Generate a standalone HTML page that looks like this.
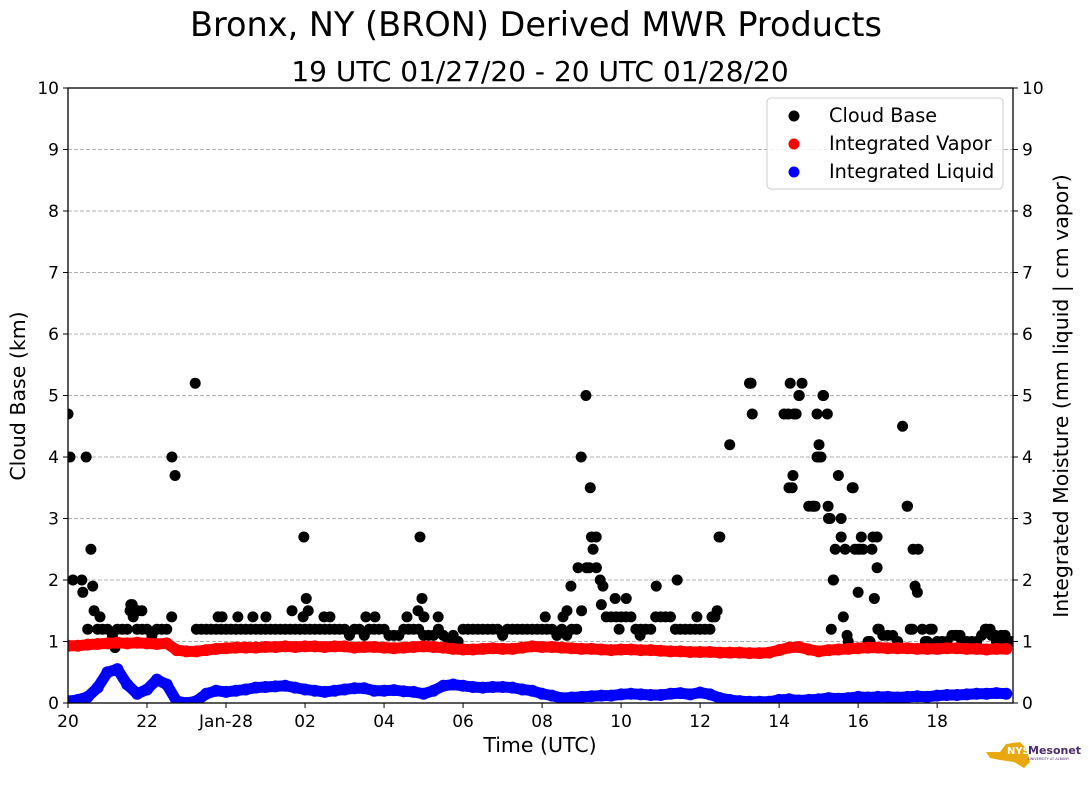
<!DOCTYPE html>
<html><head><meta charset="utf-8">
<style>
body{margin:0;background:#fff;}
svg{display:block;font-family:"DejaVu Sans","Liberation Sans",sans-serif;}
</style></head>
<body>
<svg id="chart" width="1089" height="804">
<text x="536" y="36" font-size="33.5" text-anchor="middle">Bronx, NY (BRON) Derived MWR Products</text>
<text x="540" y="81" font-size="28" text-anchor="middle">19 UTC 01/27/20 - 20 UTC 01/28/20</text>
<defs><clipPath id="clip"><rect x="68" y="88" width="945" height="615"/></clipPath></defs>
<g id="grid"></g>
<g id="marks" clip-path="url(#clip)"></g>
<rect x="68" y="88" width="945" height="615" fill="none" stroke="#000" stroke-width="1.3"/>
<g id="axes"></g>
<text x="540" y="752" font-size="20.5" text-anchor="middle">Time (UTC)</text>
<text transform="translate(25,396) rotate(-90)" font-size="20.5" text-anchor="middle">Cloud Base (km)</text>
<text transform="translate(1068,396) rotate(-90)" font-size="20.5" text-anchor="middle">Integrated Moisture (mm liquid | cm vapor)</text>
<g>
<rect x="767" y="98" width="236" height="91" rx="4" fill="#fff" fill-opacity="0.85" stroke="#ccc"/>
<circle cx="794" cy="116" r="5.5" fill="#000"/>
<text x="829" y="122" font-size="19.3">Cloud Base</text>
<circle cx="794" cy="144" r="5.5" fill="#f00"/>
<text x="829" y="150" font-size="19.3">Integrated Vapor</text>
<circle cx="794" cy="172" r="5.5" fill="#00f"/>
<text x="829" y="178" font-size="19.3">Integrated Liquid</text>
</g>
<g>
<path d="M986 752 L1000 752 L1006 744 L1020 742 L1026 748 L1030 762 L1024 768 L1014 762 L1000 760 L990 758 Z" fill="#e8a90e"/>
<text x="1007" y="754" font-size="10" font-weight="bold" fill="#fff">NYS</text>
<text x="1028" y="754" font-size="11" font-weight="bold" fill="#4b2a6b">Mesonet</text>
<text x="1028" y="760" font-size="3.5" fill="#4b2a6b">UNIVERSITY AT ALBANY</text>
</g>
</svg>
<script>
// x-axis: hours since 20 UTC 01/27
const xTickLabels = ["20","22","Jan-28","02","04","06","08","10","12","14","16","18"];
const yTickLabels = ["0","1","2","3","4","5","6","7","8","9","10"];
const xMaxHours = 23.92;
// Cloud base regular series (start 0 h, 0.125 h step)
const cbStep = 0.125;
const cbValues = [4.7,2.0,null,1.8,1.2,1.9,1.2,1.2,1.2,1.1,1.2,1.2,1.2,1.6,1.2,1.2,1.2,1.1,1.2,1.2,1.2,1.4,null,null,null,null,
1.2,1.2,1.2,1.2,1.2,1.2,1.2,1.2,1.2,1.2,1.2,1.2,1.2,1.2,1.2,1.2,1.2,1.2,1.2,1.2,1.2,1.2,1.2,1.2,1.2,1.2,1.2,1.2,1.2,1.2,1.2,
1.1,1.2,1.2,1.1,1.2,1.2,1.2,1.2,1.1,1.1,1.1,1.2,1.2,1.2,1.2,1.1,1.1,1.1,1.2,1.1,1.0,1.1,1.0,1.2,
1.2,1.2,1.2,1.2,1.2,1.2,1.2,1.1,1.2,1.2,1.2,1.2,1.2,1.2,1.2,1.2,1.2,
1.2,1.1,1.2,1.1,1.2,1.2,1.5,2.2,2.7,2.2,1.6,1.4,1.4,1.4,1.4,1.4,1.4,1.2,1.2,1.2,1.2,1.4,1.4,1.4,1.4,1.2,1.2,1.2,1.2,1.2,1.2,1.2,1.2,1.4,2.7,null,4.2,
null,null,null,5.2,null,null,null,null,null,null,4.7,3.5,4.7,5.0,null,3.2,3.2,4.0,5.0,3.0,2.0,3.7,1.4,1.0,3.5,1.8,2.5,1.0,2.7,1.2,1.1,1.1,1.1,1.0,4.5,3.2,1.2,1.8,1.2,1.0,1.2,1.0,
1.0,1.0,1.1,1.1,1.0,1.0,1.0,1.0,1.1,1.2,1.1,1.0,1.1,1.0,1.0];
// Additional cloud base detections
const cbExtraT = [0.05,0.46,0.35,0.58,0.66,0.81,1.19,1.57,1.65,1.77,1.87,1.59,2.63,2.71,3.22,3.80,3.90,4.30,4.68,5.01,5.67,5.97,6.03,6.08,5.95,6.48,6.63,7.54,7.77,8.58,8.86,8.91,8.96,9.01,9.37,12.08,12.53,12.63,12.73,12.91,12.99,13.11,13.22,13.19,13.29,13.37,13.47,13.54,13.85,14.13,13.95,14.48,14.89,15.42,15.92,16.30,16.43,16.48,17.29,17.32,18.23,18.28,18.33,18.35,18.43,18.51,18.58,18.84,18.91,18.96,19.01,18.96,19.06,19.11,19.22,19.24,19.29,19.37,19.42,19.57,19.57,19.32,19.67,19.72,19.85,19.92,20.0,20.05,20.08,20.30,20.35,20.41,20.48,20.48,20.53,21.24,21.32,21.39,21.52,21.44,21.70,21.82,22.46,22.58,23.22,23.34,23.47,23.72];
const cbExtraV = [4.0,4.0,2.0,2.5,1.5,1.4,0.9,1.5,1.4,1.5,1.5,1.6,4.0,3.7,5.2,1.4,1.4,1.4,1.4,1.4,1.5,2.7,1.7,1.5,1.4,1.4,1.4,1.4,1.4,1.4,1.5,2.7,1.7,1.4,1.4,1.4,1.4,1.5,1.9,2.2,4.0,5.0,3.5,2.2,2.5,2.7,2.0,1.9,1.7,1.7,1.2,1.1,1.9,2.0,1.4,1.4,1.5,2.7,5.2,4.7,4.7,5.2,3.5,3.7,4.7,5.0,5.2,3.2,3.2,4.7,4.2,4.0,4.0,5.0,4.7,3.2,3.0,2.0,2.5,3.0,2.7,1.2,2.5,1.1,3.5,2.5,2.5,2.5,2.7,1.0,2.5,1.7,2.7,2.2,1.2,3.2,1.2,2.5,2.5,1.9,1.0,1.2,1.1,1.1,1.2,1.2,1.1,1.1];
// Integrated vapor / liquid (0.25 h step)
const mStep = 0.25;
const vaporValues = [0.93,0.93,0.95,0.96,0.97,0.98,0.97,0.98,0.97,0.96,0.97,0.86,
0.84,0.84,0.86,0.88,0.89,0.9,0.9,0.9,0.91,0.91,0.92,0.91,
0.92,0.92,0.91,0.92,0.92,0.9,0.91,0.91,0.9,0.89,0.9,0.91,
0.92,0.91,0.9,0.88,0.87,0.87,0.88,0.89,0.88,0.88,0.9,0.92,
0.91,0.91,0.9,0.89,0.88,0.88,0.87,0.86,0.87,0.87,0.86,0.86,
0.85,0.84,0.84,0.83,0.83,0.83,0.82,0.82,0.82,0.81,0.81,0.82,
0.86,0.9,0.91,0.87,0.84,0.86,0.87,0.88,0.89,0.9,0.9,0.89,
0.89,0.89,0.88,0.88,0.88,0.89,0.89,0.88,0.88,0.87,0.88,0.88];
const liquidValues = [0.03,0.05,0.1,0.25,0.5,0.55,0.3,0.15,0.22,0.38,0.3,0.03,
0.0,0.03,0.15,0.2,0.18,0.2,0.22,0.25,0.26,0.27,0.28,0.25,
0.22,0.2,0.18,0.2,0.22,0.24,0.24,0.2,0.2,0.21,0.19,0.18,
0.15,0.2,0.28,0.3,0.28,0.26,0.25,0.26,0.26,0.25,0.22,0.2,
0.15,0.12,0.08,0.09,0.1,0.11,0.12,0.12,0.14,0.15,0.14,0.13,
0.13,0.15,0.16,0.14,0.17,0.14,0.08,0.05,0.03,0.02,0.02,0.02,
0.05,0.06,0.04,0.05,0.06,0.08,0.07,0.08,0.1,0.09,0.1,0.1,
0.09,0.1,0.11,0.1,0.12,0.13,0.13,0.14,0.15,0.15,0.16,0.15];

const NS="http://www.w3.org/2000/svg";
const L=68,R=1013,T=88,B=703;
const xs=t=>L+(R-L)*t/xMaxHours;
const ys=v=>B-(B-T)*v/10;
function mk(tag,attrs,parent){const e=document.createElementNS(NS,tag);for(const k in attrs)e.setAttribute(k,attrs[k]);parent.appendChild(e);return e;}
const grid=document.getElementById('grid'),axes=document.getElementById('axes'),marks=document.getElementById('marks');
yTickLabels.forEach((lab,i)=>{
  const y=ys(i);
  if(i>0&&i<10){const g=mk('line',{x1:L,x2:R,y1:y,y2:y,stroke:'#b0b0b0','stroke-dasharray':'4,2','stroke-width':1},grid);
  
  }
  mk('line',{x1:L-5,x2:L,y1:y,y2:y,stroke:'#000'},axes);
  mk('line',{x1:R,x2:R+5,y1:y,y2:y,stroke:'#000'},axes);
  const t1=mk('text',{x:L-9,y:y+6,'font-size':17,'text-anchor':'end'},axes);t1.textContent=lab;
  
  
  const t2=mk('text',{x:R+9,y:y+6,'font-size':17},axes);t2.textContent=lab;
  
  
});
xTickLabels.forEach((lab,i)=>{
  const x=xs(i*2);
  mk('line',{x1:x,x2:x,y1:B,y2:B+5,stroke:'#000'},axes);
  const t=mk('text',{x:x,y:B+24,'font-size':17,'text-anchor':'middle'},axes);t.textContent=lab;
  
  
});
// cloud base
cbValues.forEach((v,i)=>{ if(v===null) return;
  const c=mk('circle',{cx:xs(i*cbStep),cy:ys(v),r:5.5,fill:'#000'},marks);
  
  
});
cbExtraT.forEach((t,i)=>{
  const c=mk('circle',{cx:xs(t),cy:ys(cbExtraV[i]),r:5.5,fill:'#000'},marks);
  
  
});
function band(vals,color,name){
  const pts=vals.map((v,i)=>xs(i*mStep)+','+ys(v)).join(' ');
  const p=mk('polyline',{points:pts,fill:'none',stroke:color,'stroke-width':11,'stroke-linejoin':'round','stroke-linecap':'round'},marks);
  
  
  vals.forEach((v,i)=>{
    const c=mk('circle',{cx:xs(i*mStep),cy:ys(v),r:6,fill:color},marks);
    
    
  });
}
band(vaporValues,'#ff0000','integrated-vapor');
band(liquidValues,'#0000ff','integrated-liquid');
</script>
</body></html>
